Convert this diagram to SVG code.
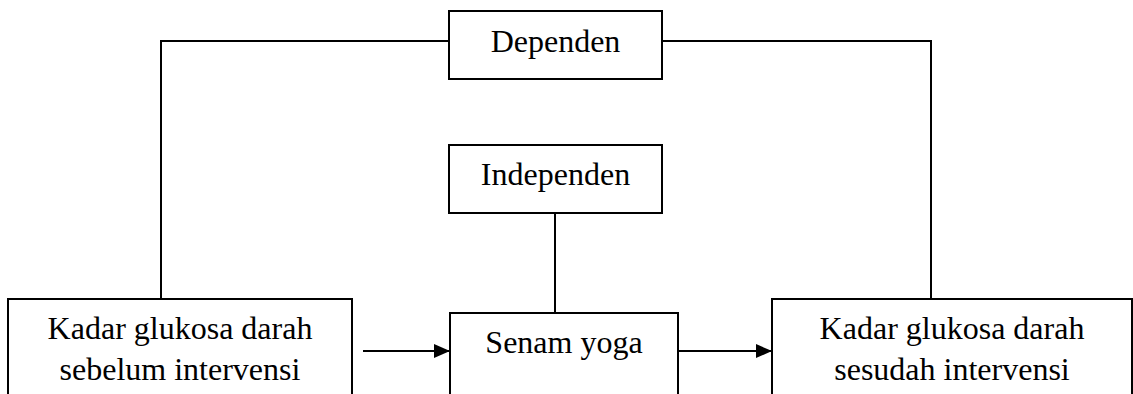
<svg xmlns="http://www.w3.org/2000/svg" width="1133" height="394" viewBox="0 0 1133 394">
<style>
.box{fill:#fff;stroke:#000;stroke-width:2}
.ln{fill:none;stroke:#000;stroke-width:2}
text{font-family:"Liberation Serif","Times New Roman",serif;font-size:32px;fill:#000;text-anchor:middle}
</style>
<defs>
<marker id="ah" markerWidth="16" markerHeight="14" refX="15" refY="7" orient="auto" markerUnits="userSpaceOnUse">
<path d="M0,0 L16,7 L0,14 Z" fill="#000"/>
</marker>
</defs>
<rect width="1133" height="394" fill="#fff"/>
<g id="connectors">
<path class="ln" d="M449,41 H161 V299"/>
<path class="ln" d="M662,41 H931 V299"/>
<path class="ln" d="M555,213 V313"/>
<path class="ln" d="M363,351 H449" marker-end="url(#ah)"/>
<path class="ln" d="M678,351 H771" marker-end="url(#ah)"/>
</g>
<g id="dependen">
<rect class="box" x="449" y="11" width="213" height="68"/>
<text x="555.5" y="52">Dependen</text>
</g>
<g id="independen">
<rect class="box" x="449" y="145" width="213" height="68"/>
<text x="555.5" y="185">Independen</text>
</g>
<g id="sebelum">
<rect class="box" x="8" y="299" width="344" height="110"/>
<text x="180" y="339">Kadar glukosa darah</text>
<text x="180" y="380">sebelum intervensi</text>
</g>
<g id="senam">
<rect class="box" x="450" y="313" width="228" height="110"/>
<text x="564" y="353">Senam yoga</text>
</g>
<g id="sesudah">
<rect class="box" x="772" y="299" width="360" height="110"/>
<text x="952" y="339">Kadar glukosa darah</text>
<text x="952" y="380">sesudah intervensi</text>
</g>
</svg>
